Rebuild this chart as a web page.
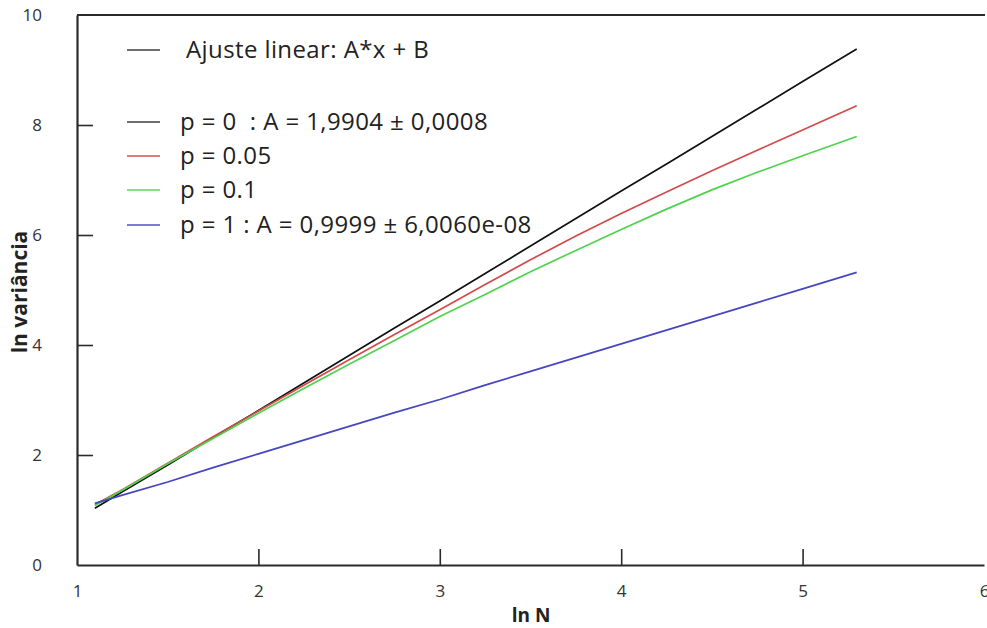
<!DOCTYPE html>
<html>
<head>
<meta charset="utf-8">
<script src="https://cdn.jsdelivr.net/npm/d3@7"></script>
<style>
  body { margin: 0; background: #fff; }
  svg { display: block; font-family: 'Open Sans', sans-serif; }
</style>
</head>
<body>
<div id="chart"></div>
<script>
// ln N sample points
const lnN = [1.0986, 1.25, 1.5, 1.75, 2.0, 2.25, 2.5, 2.75, 3.0, 3.25, 3.5, 3.75, 4.0, 4.25, 4.5, 4.75, 5.0, 5.2983]

// ln variância per p value
const p0 = [1.03, 1.33, 1.82, 2.32, 2.81, 3.31, 3.81, 4.31, 4.80, 5.30, 5.80, 6.30, 6.80, 7.29, 7.79, 8.29, 8.79, 9.38]
const p005 = [1.10, 1.37, 1.85, 2.33, 2.80, 3.27, 3.73, 4.19, 4.64, 5.10, 5.55, 5.98, 6.39, 6.78, 7.17, 7.54, 7.91, 8.35]
const p01 = [1.08, 1.36, 1.84, 2.30, 2.76, 3.21, 3.65, 4.08, 4.52, 4.92, 5.33, 5.72, 6.10, 6.47, 6.82, 7.14, 7.44, 7.79]
const p1 = [1.12, 1.27, 1.51, 1.77, 2.02, 2.27, 2.52, 2.77, 3.01, 3.27, 3.52, 3.77, 4.02, 4.27, 4.52, 4.77, 5.02, 5.32]

const seriesNames = ['p0', 'p005', 'p01', 'p1']
const seriesValues = [p0, p005, p01, p1]
const seriesColors = ['#111111', '#d24a4a', '#4fd24f', '#4646c0']

const legendLabels = [
  'Ajuste linear: A*x + B',
  'p = 0\u00a0\u00a0: A = 1,9904 \u00b1 0,0008',
  'p = 0.05',
  'p = 0.1',
  'p = 1 : A = 0,9999 \u00b1 6,0060e-08'
]
const legendColors = ['#6e6e6e', '#6e6e6e', '#e07a7a', '#86e086', '#7a7ad8']

const xTicks = [1, 2, 3, 4, 5, 6]
const yTicks = [0, 2, 4, 6, 8, 10]

const W = 987
const H = 628
const margin = { top: 15, left: 77, right: 3, bottom: 63 }
const width = W - margin.left - margin.right
const height = H - margin.top - margin.bottom

const svg = d3
  .select('#chart')
  .append('svg')
  .attr('width', W)
  .attr('height', H)

const g = svg
  .append('g')
  .attr('transform', 'translate(' + margin.left + ',' + margin.top + ')')

const xPositionScale = d3
  .scaleLinear()
  .domain([1, 6])
  .range([0, width])

const yPositionScale = d3
  .scaleLinear()
  .domain([0, 10])
  .range([height, 0])

const AXIS_COLOR = '#2b2b2b'
const TICK_LEN = 16

// bottom axis, ticks pointing inside
const xAxis = d3
  .axisBottom(xPositionScale)
  .tickValues(xTicks)
  .tickSizeInner(-TICK_LEN)
  .tickSizeOuter(0)
  .tickPadding(TICK_LEN + 4)
  .tickFormat(d3.format('d'))

const yAxis = d3
  .axisLeft(yPositionScale)
  .tickValues(yTicks)
  .tickSizeInner(-TICK_LEN)
  .tickSizeOuter(0)
  .tickPadding(TICK_LEN + 19)
  .tickFormat(d3.format('d'))

g.append('g')
  .attr('class', 'x-axis')
  .attr('transform', 'translate(0,' + height + ')')
  .call(xAxis)

g.append('g')
  .attr('class', 'y-axis')
  .call(yAxis)

g.selectAll('.x-axis .tick line, .y-axis .tick line')
  .attr('stroke', AXIS_COLOR)
  .attr('stroke-width', 1.6)
g.selectAll('.x-axis .tick')
  .filter(d => d === 1 || d === 6)
  .select('line')
  .remove()
g.selectAll('.y-axis .tick')
  .filter(d => d === 0 || d === 10)
  .select('line')
  .remove()
g.selectAll('.domain')
  .attr('stroke', AXIS_COLOR)
  .attr('stroke-width', 2.2)
g.selectAll('.tick text')
  .attr('fill', '#333')
  .attr('font-size', 17)
  .attr('font-family', "'Open Sans', sans-serif")

// top frame line
g.append('line')
  .attr('x1', 0)
  .attr('x2', width + 1)
  .attr('y1', yPositionScale(10))
  .attr('y2', yPositionScale(10))
  .attr('stroke', AXIS_COLOR)
  .attr('stroke-width', 2.2)

// axis titles
svg
  .append('text')
  .text('ln N')
  .attr('x', 531)
  .attr('y', 622)
  .attr('text-anchor', 'middle')
  .attr('font-weight', 'bold')
  .attr('font-size', 19)
  .attr('fill', '#222')

svg
  .append('text')
  .text('ln variância')
  .attr('transform', 'translate(27,292) rotate(-90)')
  .attr('text-anchor', 'middle')
  .attr('font-weight', 'bold')
  .attr('font-size', 21)
  .attr('fill', '#222')

// data lines
const line = d3
  .line()
  .x(d => xPositionScale(d[0]))
  .y(d => yPositionScale(d[1]))

g.selectAll('.series')
  .data(seriesNames)
  .enter()
  .append('path')
  .attr('class', 'series')
  .attr('d', (d, i) => line(lnN.map((x, j) => [x, seriesValues[i][j]])))
  .attr('fill', 'none')
  .attr('stroke', (d, i) => seriesColors[i])
  .attr('stroke-width', 1.7)

// legend
const legendY = [50, 122, 156, 190, 225]
const legend = svg
  .selectAll('.legend')
  .data(legendLabels)
  .enter()
  .append('g')
  .attr('class', 'legend')
  .attr('transform', (d, i) => `translate(127,${legendY[i]})`)

legend
  .append('line')
  .attr('x1', 0)
  .attr('x2', 33)
  .attr('stroke', (d, i) => legendColors[i])
  .attr('stroke-width', 2)

legend
  .append('text')
  .text(d => d)
  .attr('x', (d, i) => (i === 0 ? 59 : 53))
  .attr('dy', '0.35em')
  .attr('font-size', 24)
  .attr('letter-spacing', 0.4)
  .attr('fill', '#222')
</script>
</body>
</html>
